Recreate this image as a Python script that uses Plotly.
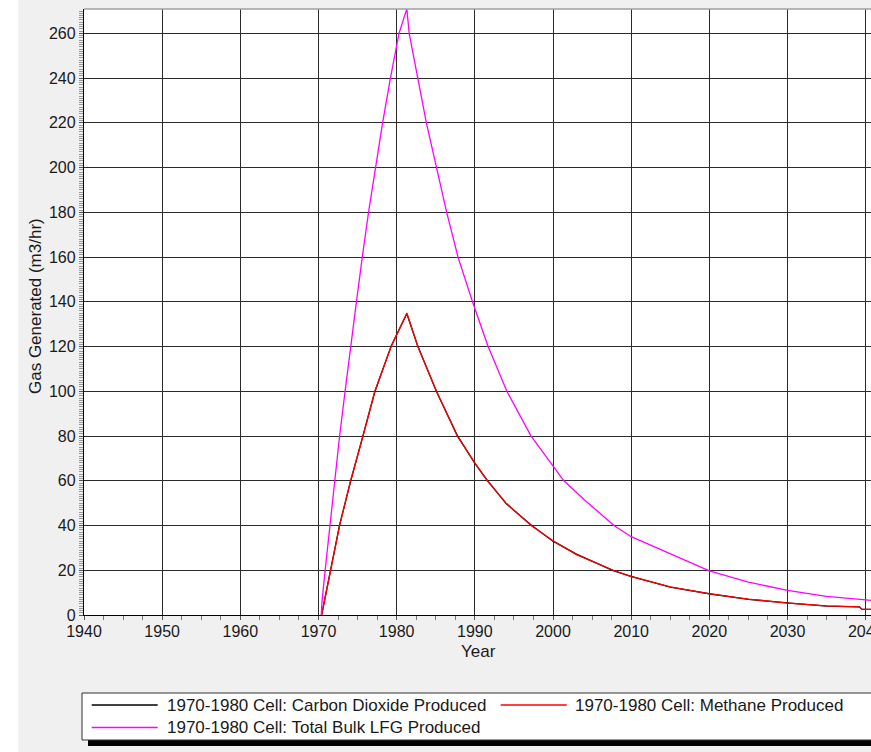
import plotly.graph_objects as go

# Data (year, m3/hr)
ch4_year = [1970.4, 1971.55, 1972.7, 1974.1, 1975.7, 1977.2, 1979.3, 1981.3,
            1982.7, 1985.1, 1987.75, 1990.0, 1991.6, 1994.0, 1997.2, 2000.0, 2003.0,
            2007.7, 2010.0, 2015.0, 2020.0, 2025.0, 2030.0, 2035.0, 2039.2, 2039.5, 2040.7]
ch4 = [0, 20, 40, 60, 80, 100, 120, 135,
       120, 100, 80, 68, 60, 50, 40, 33.2, 27,
       20, 17.2, 12.6, 9.4, 7.1, 5.3, 4.1, 3.6, 2.6, 2.5]

co2_year = ch4_year
co2 = [0, 19.7, 40.3, 59.6, 80.2, 99.7, 120.3, 134.7,
       120.2, 99.8, 80.3, 67.8, 60.2, 49.8, 40.2, 33.0, 27.2,
       19.8, 17.3, 12.5, 9.5, 7.0, 5.4, 4.0, 3.6, 2.6, 2.5]

tot_year = [1970.35, 1970.45, 1970.85, 1971.45, 1972.1, 1972.7, 1973.4, 1974.1, 1974.85,
            1975.6, 1976.4, 1977.3, 1978.2, 1979.2, 1980.3, 1981.3, 1981.6, 1982.7,
            1983.8, 1985.1, 1986.4, 1987.85, 1989.7, 1991.7, 1994.1, 1997.2, 2000.0,
            2001.4, 2004.0, 2007.8, 2010.0, 2015.0, 2020.0, 2025.0, 2030.0, 2035.0,
            2040.0, 2040.7]
tot = [0, 6, 20, 40, 60, 80, 100, 120, 140,
       160, 180, 200, 220, 240, 260, 271, 260, 240,
       220, 200, 180, 160, 140, 120, 100, 80, 67,
       60, 51.5, 40, 35, 27.2, 19.7, 14.7, 11, 8.3,
       6.8, 6.5]

names = ["1970-1980 Cell: Carbon Dioxide Produced",
         "1970-1980 Cell: Methane Produced",
         "1970-1980 Cell: Total Bulk LFG Produced"]
colors = ["#000000", "#ff0000", "#ff00ff"]

FONT = "Liberation Sans, Arial, sans-serif"
TXT = "#1a1a1a"

# plot area in pixels
L, R, T, B = 84, 871, 9, 615
W, H = 871, 752


def px(x):
    return (x - L) / (R - L)


def py(y):
    return (B - y) / (B - T)


fig = go.Figure()
fig.add_trace(go.Scatter(x=co2_year, y=co2, mode="lines", name=names[0],
                         line={'color': colors[0], 'width': 1.3}))
fig.add_trace(go.Scatter(x=ch4_year, y=ch4, mode="lines", name=names[1],
                         line={'color': colors[1], 'width': 1.3}))
fig.add_trace(go.Scatter(x=tot_year, y=tot, mode="lines", name=names[2],
                         line={'color': colors[2], 'width': 1.3}))

#X-Axis
fig.update_xaxes(range=[1940, 2040.68], dtick=10, tick0=1940,
                 showgrid=True, gridcolor="#2b2b2b", gridwidth=1.3,
                 showline=True, linecolor="#000", linewidth=1.3, zeroline=False,
                 ticks="outside", ticklen=4, tickcolor="#555",
                 minor=dict(dtick=2.5, ticks="outside", ticklen=4, tickcolor="#777", showgrid=False),
                 tickfont=dict(family=FONT, size=16, color=TXT),
                 ticklabelstandoff=-2,
                 ticklabeloverflow="allow", automargin=False)

#Y-axis
fig.update_yaxes(range=[0, 270.9], dtick=20, tick0=0,
                 showgrid=True, gridcolor="#2b2b2b", gridwidth=1.3,
                 showline=True, linecolor="#000", linewidth=1.3, zeroline=False,
                 ticks="outside", ticklen=4, tickcolor="#555",
                 minor=dict(dtick=1, ticks="outside", ticklen=4, tickcolor="#999", showgrid=False),
                 tickfont=dict(family=FONT, size=16, color=TXT),
                 automargin=False)

shapes = []
# white strip on the far left
shapes.append(dict(type="rect", xref="paper", yref="paper", layer="below",
                   x0=px(-5), x1=px(18.3), y0=py(760), y1=py(-5),
                   fillcolor="white", line=dict(width=0)))
# light top frame
shapes.append(dict(type="line", xref="paper", yref="paper",
                   x0=0, x1=1, y0=1, y1=1, line=dict(color="#a0a0a0", width=1.3)))
# legend shadow + box
shapes.append(dict(type="rect", xref="paper", yref="paper",
                   x0=px(88), x1=px(900), y0=py(746), y1=py(699),
                   fillcolor="black", line=dict(width=0)))
shapes.append(dict(type="rect", xref="paper", yref="paper",
                   x0=px(82), x1=px(895), y0=py(740), y1=py(693),
                   fillcolor="white", line=dict(color="#333", width=1)))

# legend entries (line start x, text x, row y)
leg = [(91.7, 165, 705), (500.7, 573.3, 705), (91.7, 165, 727.5)]
annotations = []
for (lx, tx, ly), nm, c in zip(leg, names, colors):
    shapes.append(dict(type="line", xref="paper", yref="paper",
                       x0=px(lx), x1=px(lx + 66), y0=py(ly), y1=py(ly),
                       line=dict(color=c, width=1.3)))
    annotations.append(dict(text=nm, x=px(tx), y=py(ly), xref="paper", yref="paper",
                            xanchor="left", yanchor="middle", showarrow=False,
                            font=dict(family=FONT, size=17, color=TXT)))

# Axis titles
annotations.append(dict(text="Year", x=px(478), y=py(651), xref="paper", yref="paper",
                        xanchor="center", yanchor="middle", showarrow=False,
                        font=dict(family=FONT, size=17, color=TXT)))
annotations.append(dict(text="Gas Generated (m3/hr)", x=px(35), y=py(306),
                        xref="paper", yref="paper", textangle=-90,
                        xanchor="center", yanchor="middle", showarrow=False,
                        font=dict(family=FONT, size=17, color=TXT)))

# Layout
fig.update_layout(width=W, height=H,
                  margin=dict(l=L, r=W - R, t=T, b=H - B, pad=0),
                  paper_bgcolor="#f0f0f0", plot_bgcolor="white",
                  showlegend=False, shapes=shapes, annotations=annotations)

# page has a default 8px body margin; drop it so the figure fills the window
fig.write_html("out.html", config={"displayModeBar": False},
               post_script="document.body.style.margin='0';document.body.style.overflow='hidden';")
